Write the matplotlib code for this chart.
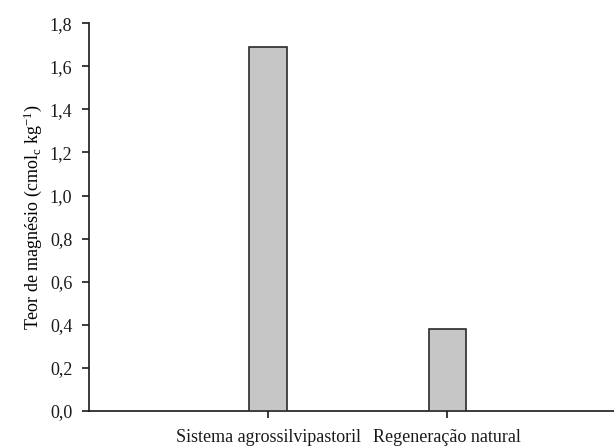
import numpy as np
import matplotlib.pyplot as plt

plt.rcParams['font.family'] = ['Liberation Serif', 'DejaVu Serif']
plt.rcParams['mathtext.fontset'] = 'custom'
plt.rcParams['mathtext.rm'] = 'Liberation Serif'
plt.rcParams['mathtext.it'] = 'Liberation Serif'

categories = ['Sistema agrossilvipastoril', 'Regeneração natural']
magnesio = [1.69, 0.38]
yticks = [0.0, 0.2, 0.4, 0.6, 0.8, 1.0, 1.2, 1.4, 1.6, 1.8]

fig = plt.figure(figsize=(6.14, 4.46), dpi=100)
ax = fig.add_axes([0.145, 0.0785, 0.855, 0.8695])

x = np.arange(len(categories))
ax.bar(x, magnesio, width=0.21, color='#c6c6c6', edgecolor='#2a2a2a', linewidth=1.2, zorder=3)

ax.set_xlim(-1.0, 1.93)
ax.set_ylim(0, 1.8)
ax.set_xticks(x)
ax.set_xticklabels(categories, fontsize=13)
ax.set_yticks(yticks)
ax.set_yticklabels([f'{v:.1f}'.replace('.', ',') for v in yticks], fontsize=13)
ax.set_ylabel('Teor de magnésio (cmol$_\\mathregular{c}$ kg$^\\mathregular{-1}$)', fontsize=13, labelpad=4)

for s in ['top', 'right']:
    ax.spines[s].set_visible(False)
for s in ['left', 'bottom']:
    ax.spines[s].set_linewidth(1.2)
    ax.spines[s].set_color('#1a1a1a')
ax.tick_params(axis='both', direction='out', length=5, width=1.2, color='#1a1a1a', labelcolor='#1a1a1a')
ax.tick_params(axis='x', pad=8)
ax.tick_params(axis='y', pad=7)

fig.savefig('out.png', dpi=100)
